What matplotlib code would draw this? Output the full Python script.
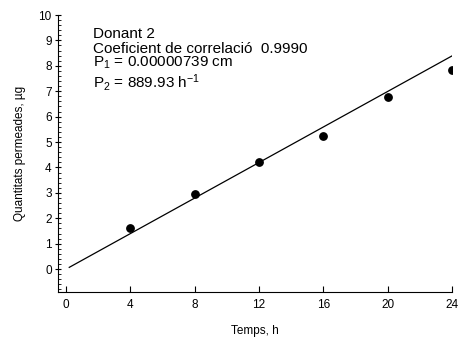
import matplotlib
matplotlib.use("Agg")
import matplotlib.pyplot as plt
from matplotlib.ticker import MultipleLocator

plt.rcParams['font.family'] = ['Liberation Sans', 'DejaVu Sans']
plt.rcParams['mathtext.fontset'] = 'custom'
plt.rcParams['mathtext.rm'] = 'Liberation Sans'
plt.rcParams['mathtext.it'] = 'Liberation Sans'

# data
times = [4, 8, 12, 16, 20, 24]
amounts = [1.60, 2.94, 4.20, 5.25, 6.78, 7.83]
fit_x = [0.2, 24]
fit_y = [0.07, 8.39]
xticks = [0, 4, 8, 12, 16, 20, 24]
yticks = list(range(0, 11))

fig = plt.figure(figsize=(4.59, 3.40), dpi=100)
ax = fig.add_axes([58/459, 1-292/340, (452-58)/459, (292-15)/340])

ax.plot(fit_x, fit_y, color='black', lw=0.9)
ax.plot(times, amounts, 'o', color='black', ms=5.3)

ax.set_xlim(-0.5, 24)
ax.set_ylim(-0.9, 10)
ax.set_xticks(xticks)
ax.set_yticks(yticks)
ax.yaxis.set_minor_locator(MultipleLocator(0.2))
for s in ['top', 'right']:
    ax.spines[s].set_visible(False)
ax.tick_params(axis='x', direction='in', length=4, labelsize=8.5, pad=5)
ax.tick_params(axis='y', which='major', direction='inout', length=5, labelsize=8.5, pad=2)
ax.tick_params(axis='y', which='minor', direction='in', length=2.5)

ax.set_xlabel('Temps, h', fontsize=8.5, labelpad=10)
ax.set_ylabel('Quantitats permeades, µg', fontsize=8.5, labelpad=9)

tx = 1.68
fs = 11
ax.text(tx, 9.09, 'Donant 2', fontsize=fs, va='baseline')
ax.text(tx, 8.50, 'Coeficient de correlació  0.9990', fontsize=fs, va='baseline')
ax.text(tx, 7.95, r'P$_1$ = 0.00000739 cm', fontsize=fs, va='baseline')
ax.text(tx, 7.13, r'P$_2$ = 889.93 h$^{-1}$', fontsize=fs, va='baseline')

fig.savefig('out.png', dpi=100)
